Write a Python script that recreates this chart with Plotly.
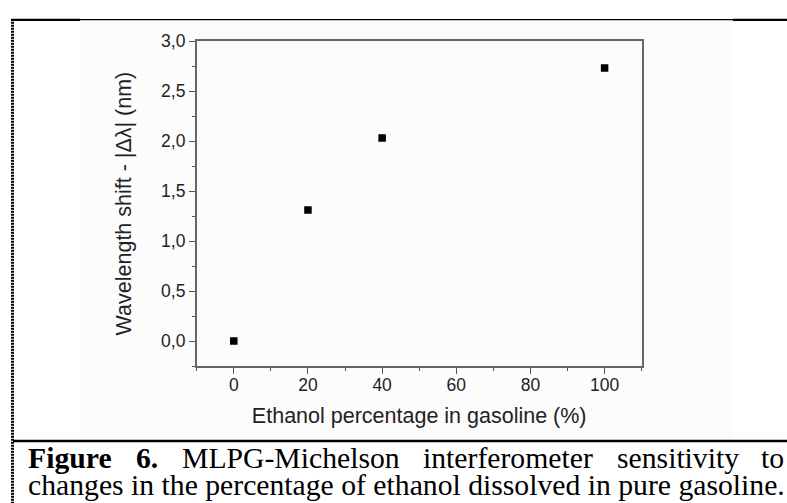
import plotly.graph_objects as go

# ---- data ----
ethanol_pct = [0, 20, 40, 100]
wavelength_shift = [0.0, 1.31, 2.03, 2.73]

x_title = "Ethanol percentage in gasoline (%)"
y_title = "Wavelength shift - |Δλ| (nm)"

caption_line1_words = [("<b>Figure</b>", 27, "left"), ("<b>6.</b>", 135, "left"),
                       ("MLPG-Michelson", 181, "left"), ("interferometer", 422, "left"),
                       ("sensitivity", 616, "left"), ("to", 785, "right")]
caption_line2 = "changes in the percentage of ethanol dissolved in pure gasoline."

W, H = 787, 503


def px(x):
    return x / W


def py(y):
    return 1 - y / H


fig = go.Figure()
fig.add_trace(go.Scatter(
    x=ethanol_pct, y=wavelength_shift, mode="markers",
    marker=dict(symbol="square", size=7.5, color="black", line=dict(width=0)),
    showlegend=False, hoverinfo="skip"))

axis_common = dict(
    showline=True, linecolor="#666666", linewidth=1.5, mirror=True,
    ticks="outside", ticklen=6, tickwidth=1.2, tickcolor="#555555",
    showgrid=False, zeroline=False,
    tickfont=dict(family="Liberation Sans", size=17.5, color="#222222"),
)

fig.update_layout(
    width=W, height=H,
    margin=dict(l=0, r=0, t=0, b=0),
    paper_bgcolor="white", plot_bgcolor="rgba(0,0,0,0)",
    separators=",.",
    xaxis=dict(
        domain=[px(196.7), px(641.7)], range=[-10, 110], tick0=0, dtick=20,
        minor=dict(dtick=10, ticklen=3, tickcolor="#555555", ticks="outside"),
        ticklabelstandoff=-4,
        title=dict(text=x_title, font=dict(family="Liberation Sans", size=21.5, color="#222222"), standoff=14),
        **axis_common),
    yaxis=dict(
        domain=[py(363.3), py(31.7)], range=[-0.25, 3.0], tick0=0, dtick=0.5, tickformat=".1f",
        minor=dict(dtick=0.25, ticklen=3, tickcolor="#555555", ticks="outside"),
        title=dict(text=y_title, font=dict(family="Liberation Sans", size=21.5, color="#222222"), standoff=24),
        **axis_common),
)

shapes = [
    # image background
    dict(type="rect", xref="paper", yref="paper", x0=px(80), x1=px(733), y0=py(438), y1=py(10),
         fillcolor="#fcfcfc", line=dict(width=0), layer="below"),
    # top rule (thin)
    dict(type="line", xref="paper", yref="paper", x0=px(11), x1=px(787), y0=py(9.8), y1=py(9.8),
         line=dict(color="black", width=1.2)),
    # top rule thick segments
    dict(type="line", xref="paper", yref="paper", x0=px(11), x1=px(80), y0=py(10.1), y1=py(10.1),
         line=dict(color="black", width=2.3)),
    dict(type="line", xref="paper", yref="paper", x0=px(733), x1=px(787), y0=py(10.1), y1=py(10.1),
         line=dict(color="black", width=2.3)),
    # separator above caption
    dict(type="line", xref="paper", yref="paper", x0=px(13), x1=px(787), y0=py(439.8), y1=py(439.8),
         line=dict(color="black", width=2.4)),
    # dotted left border
    dict(type="line", xref="paper", yref="paper", x0=px(12.5), x1=px(12.5), y0=py(12), y1=py(503),
         line=dict(color="black", width=3, dash="2px,1px")),
]
fig.update_layout(shapes=shapes)

annotations = []
for word, x, anchor in caption_line1_words:
    annotations.append(dict(
        text=word, xref="paper", yref="paper", x=px(x), y=py(457), xanchor=anchor, yanchor="middle",
        showarrow=False, borderpad=0,
        font=dict(family="Liberation Serif", size=29.7, color="black")))
annotations.append(dict(
    text=caption_line2, xref="paper", yref="paper", x=px(27), y=py(485), xanchor="left", yanchor="middle",
    showarrow=False, borderpad=0,
    font=dict(family="Liberation Serif", size=29.7, color="black")))
fig.update_layout(annotations=annotations)

fig.write_html("out.html")
